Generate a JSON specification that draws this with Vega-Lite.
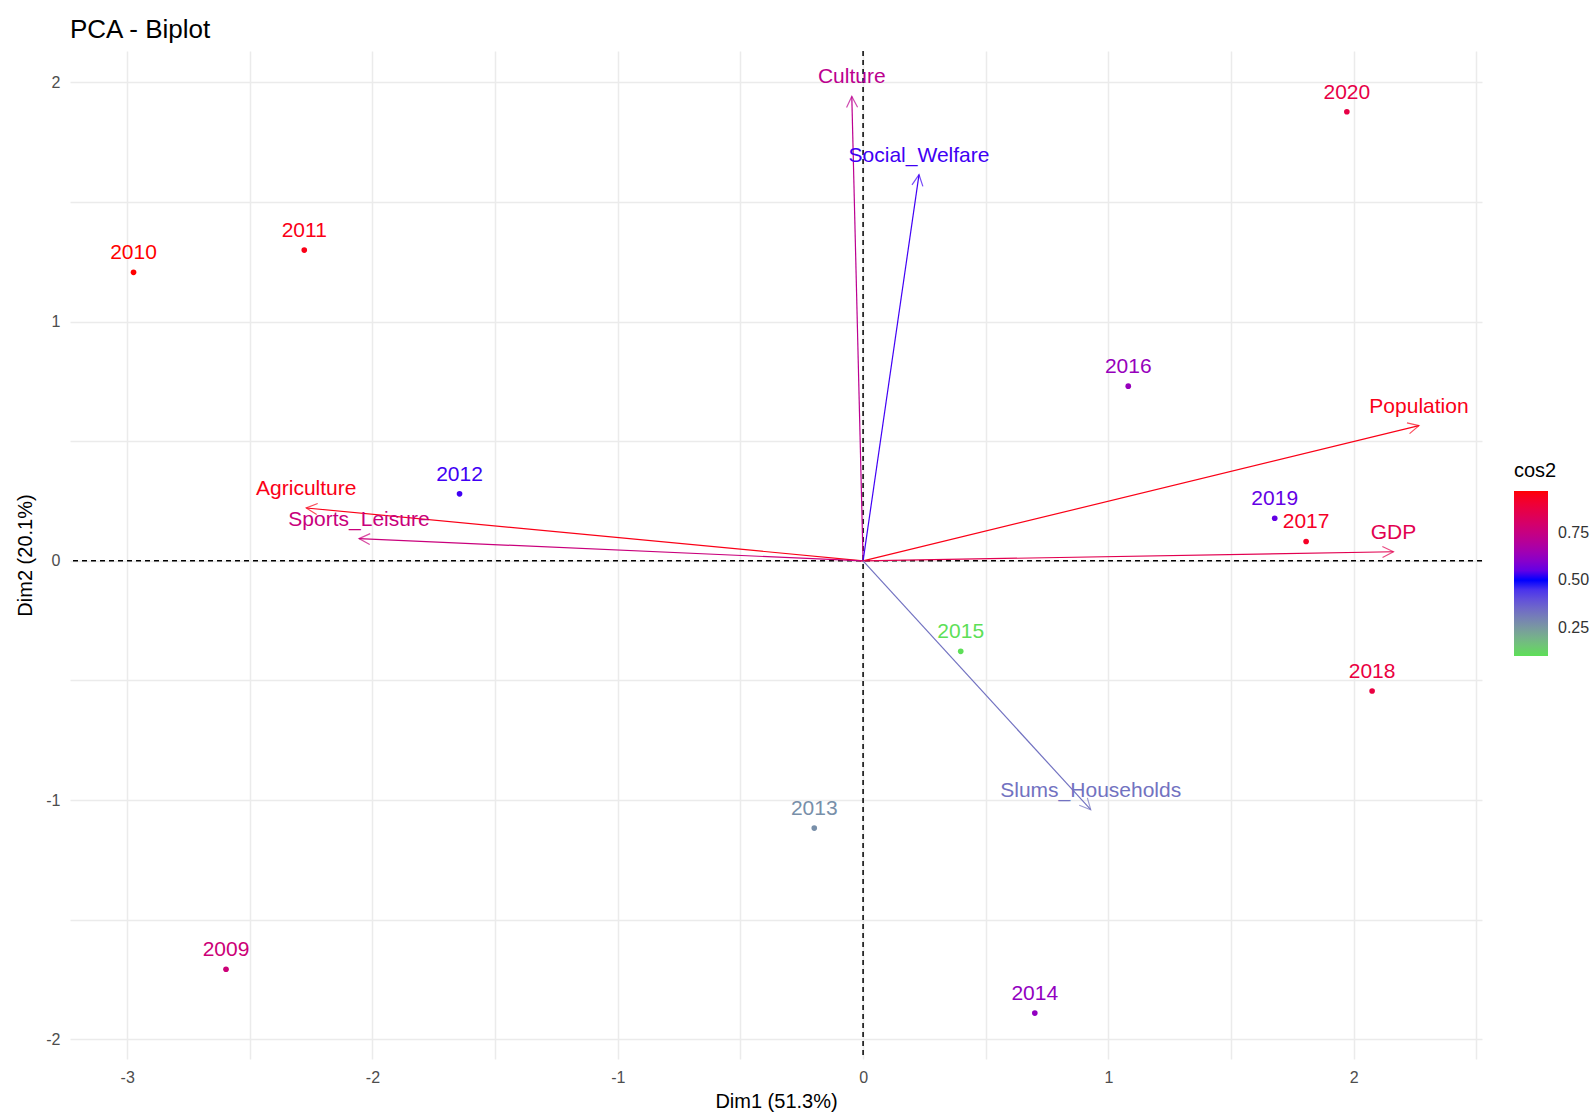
{
  "$schema": "https://vega.github.io/schema/vega-lite/v6.json",
  "autosize": {"type": "none"},
  "width": 1412,
  "height": 1008,
  "padding": {"left": 70, "top": 51, "right": 111, "bottom": 58},
  "background": "white",
  "title": {"text": "PCA - Biplot", "anchor": "start", "frame": "group", "fontSize": 26, "font": "Liberation Sans", "fontWeight": "normal", "color": "black", "offset": 7},
  "config": {"view": {"stroke": null}, "font": "Liberation Sans", "legend": {"titleFontWeight": 400, "titleFontSize": 20}, "style": {"guide-title": {"fontWeight": 400}}},
  "datasets": {
    "ind": [
      {"name": "2009", "x": -2.597, "y": -1.707, "cos2": 0.77},
      {"name": "2010", "x": -2.974, "y": 1.206, "cos2": 0.97},
      {"name": "2011", "x": -2.278, "y": 1.299, "cos2": 0.95},
      {"name": "2012", "x": -1.645, "y": 0.28, "cos2": 0.52},
      {"name": "2013", "x": -0.199, "y": -1.117, "cos2": 0.27},
      {"name": "2014", "x": 0.7, "y": -1.89, "cos2": 0.62},
      {"name": "2015", "x": 0.398, "y": -0.378, "cos2": 0.1},
      {"name": "2016", "x": 1.081, "y": 0.73, "cos2": 0.63},
      {"name": "2017", "x": 1.806, "y": 0.081, "cos2": 0.93},
      {"name": "2018", "x": 2.075, "y": -0.544, "cos2": 0.88},
      {"name": "2019", "x": 1.678, "y": 0.178, "cos2": 0.55},
      {"name": "2020", "x": 1.972, "y": 1.877, "cos2": 0.87}
    ],
    "var": [
      {"name": "Culture", "x": -0.046, "y": 1.941, "cos2": 0.72},
      {"name": "Social_Welfare", "x": 0.228, "y": 1.614, "cos2": 0.52},
      {"name": "Population", "x": 2.266, "y": 0.565, "cos2": 0.95},
      {"name": "GDP", "x": 2.162, "y": 0.038, "cos2": 0.85},
      {"name": "Agriculture", "x": -2.27, "y": 0.221, "cos2": 0.95},
      {"name": "Sports_Leisure", "x": -2.055, "y": 0.093, "cos2": 0.76},
      {"name": "Slums_Households", "x": 0.928, "y": -1.04, "cos2": 0.33}
    ]
  },
  "encoding": {
    "x": {"field": "x", "type": "quantitative", "scale": {"domain": [-3.233, 2.523], "nice": false, "zero": false},
      "axis": {"title": "Dim1 (51.3%)", "values": [-3, -2.5, -2, -1.5, -1, -0.5, 0, 0.5, 1, 1.5, 2, 2.5],
        "labelExpr": "datum.value % 1 === 0 ? '' + datum.value : ''", "grid": true, "gridColor": "#ebebeb", "gridWidth": 1.5,
        "domain": false, "ticks": false, "labelFontSize": 16, "labelColor": "#4d4d4d", "labelPadding": 10,
        "titleFontSize": 20, "titleFontWeight": "normal", "titleColor": "black", "titlePadding": 6, "labelFont": "Liberation Sans", "titleFont": "Liberation Sans"}},
    "y": {"field": "y", "type": "quantitative", "scale": {"domain": [-2.082, 2.131], "nice": false, "zero": false},
      "axis": {"title": "Dim2 (20.1%)", "values": [-2, -1.5, -1, -0.5, 0, 0.5, 1, 1.5, 2],
        "labelExpr": "datum.value % 1 === 0 ? '' + datum.value : ''", "grid": true, "gridColor": "#ebebeb", "gridWidth": 1.5,
        "domain": false, "ticks": false, "labelFontSize": 16, "labelColor": "#4d4d4d", "labelPadding": 10,
        "titleFontSize": 20, "titleFontWeight": "normal", "titleColor": "black", "titlePadding": 10, "labelFont": "Liberation Sans", "titleFont": "Liberation Sans"}}
  },
  "layer": [
    {
      "data": {"values": [{"v": 0}]},
      "mark": {"type": "rule", "color": "black", "strokeDash": [5, 4], "strokeWidth": 1.5},
      "encoding": {"x": {"field": "v", "type": "quantitative"}, "y": null}
    },
    {
      "data": {"values": [{"v": 0}]},
      "mark": {"type": "rule", "color": "black", "strokeDash": [5, 4], "strokeWidth": 1.5},
      "encoding": {"y": {"field": "v", "type": "quantitative"}, "x": null}
    },
    {
      "data": {"name": "var"},
      "mark": {"type": "rule", "strokeWidth": 1.2},
      "encoding": {
        "x": {"datum": 0, "type": "quantitative"},
        "y": {"datum": 0, "type": "quantitative"},
        "x2": {"field": "x"},
        "y2": {"field": "y"},
        "stroke": {"field": "cos2", "type": "quantitative",
          "scale": {"domain": [0.1001, 0.5, 0.9701], "range": ["#5DDF57", "#0000FF", "#FF0000"], "interpolate": "lab"},
          "legend": null}
      }
    },
    {
      "data": {"name": "var"},
      "transform": [{"calculate": "atan2(-datum.y * 239.25, datum.x * 245.3) * 180 / PI", "as": "ang"}],
      "mark": {"type": "point", "shape": "M -1 -0.5 L 0 0 L -1 0.5", "filled": false, "strokeWidth": 1.2, "size": 484},
      "encoding": {
        "angle": {"field": "ang", "type": "quantitative", "scale": null},
        "stroke": {"field": "cos2", "type": "quantitative",
          "scale": {"domain": [0.1001, 0.5, 0.9701], "range": ["#5DDF57", "#0000FF", "#FF0000"], "interpolate": "lab"},
          "legend": null}
      }
    },
    {
      "data": {"name": "ind"},
      "mark": {"type": "point", "filled": true, "size": 32, "opacity": 1, "strokeWidth": 0},
      "encoding": {
        "fill": {"field": "cos2", "type": "quantitative",
          "scale": {"domain": [0.1, 0.5, 0.97], "range": ["#5DDF57", "#0000FF", "#FF0000"], "interpolate": "lab"},
          "legend": {"type": "gradient", "title": "cos2", "orient": "none", "legendX": 1444, "legendY": 410, "direction": "vertical",
            "gradientLength": 165, "gradientThickness": 34, "values": [0.25, 0.5, 0.75], "format": ".2f",
            "labelFontSize": 16, "labelColor": "#333333", "titleFontSize": 20, "titleFontWeight": 400, "titleColor": "black",
            "gradientStrokeWidth": 0, "labelOffset": 10, "titlePadding": 10, "labelFont": "Liberation Sans", "titleFont": "Liberation Sans"}}
      }
    },
    {
      "data": {"name": "ind"},
      "mark": {"type": "text", "fontSize": 21, "font": "Liberation Sans", "baseline": "middle", "dy": -19},
      "encoding": {
        "text": {"field": "name"},
        "fill": {"field": "cos2", "type": "quantitative",
          "scale": {"domain": [0.1, 0.5, 0.97], "range": ["#5DDF57", "#0000FF", "#FF0000"], "interpolate": "lab"},
          "legend": {"type": "gradient", "title": "cos2", "orient": "none", "legendX": 1444, "legendY": 410, "direction": "vertical",
            "gradientLength": 165, "gradientThickness": 34, "values": [0.25, 0.5, 0.75], "format": ".2f",
            "labelFontSize": 16, "labelColor": "#333333", "titleFontSize": 20, "titleFontWeight": 400, "titleColor": "black",
            "gradientStrokeWidth": 0, "labelOffset": 10, "titlePadding": 10, "labelFont": "Liberation Sans", "titleFont": "Liberation Sans"}}
      }
    },
    {
      "data": {"name": "var"},
      "mark": {"type": "text", "fontSize": 21, "font": "Liberation Sans", "baseline": "middle", "dy": -19},
      "encoding": {
        "text": {"field": "name"},
        "fill": {"field": "cos2", "type": "quantitative",
          "scale": {"domain": [0.1, 0.5, 0.97], "range": ["#5DDF57", "#0000FF", "#FF0000"], "interpolate": "lab"},
          "legend": {"type": "gradient", "title": "cos2", "orient": "none", "legendX": 1444, "legendY": 410, "direction": "vertical",
            "gradientLength": 165, "gradientThickness": 34, "values": [0.25, 0.5, 0.75], "format": ".2f",
            "labelFontSize": 16, "labelColor": "#333333", "titleFontSize": 20, "titleFontWeight": 400, "titleColor": "black",
            "gradientStrokeWidth": 0, "labelOffset": 10, "titlePadding": 10, "labelFont": "Liberation Sans", "titleFont": "Liberation Sans"}}
      }
    }
  ]
}
